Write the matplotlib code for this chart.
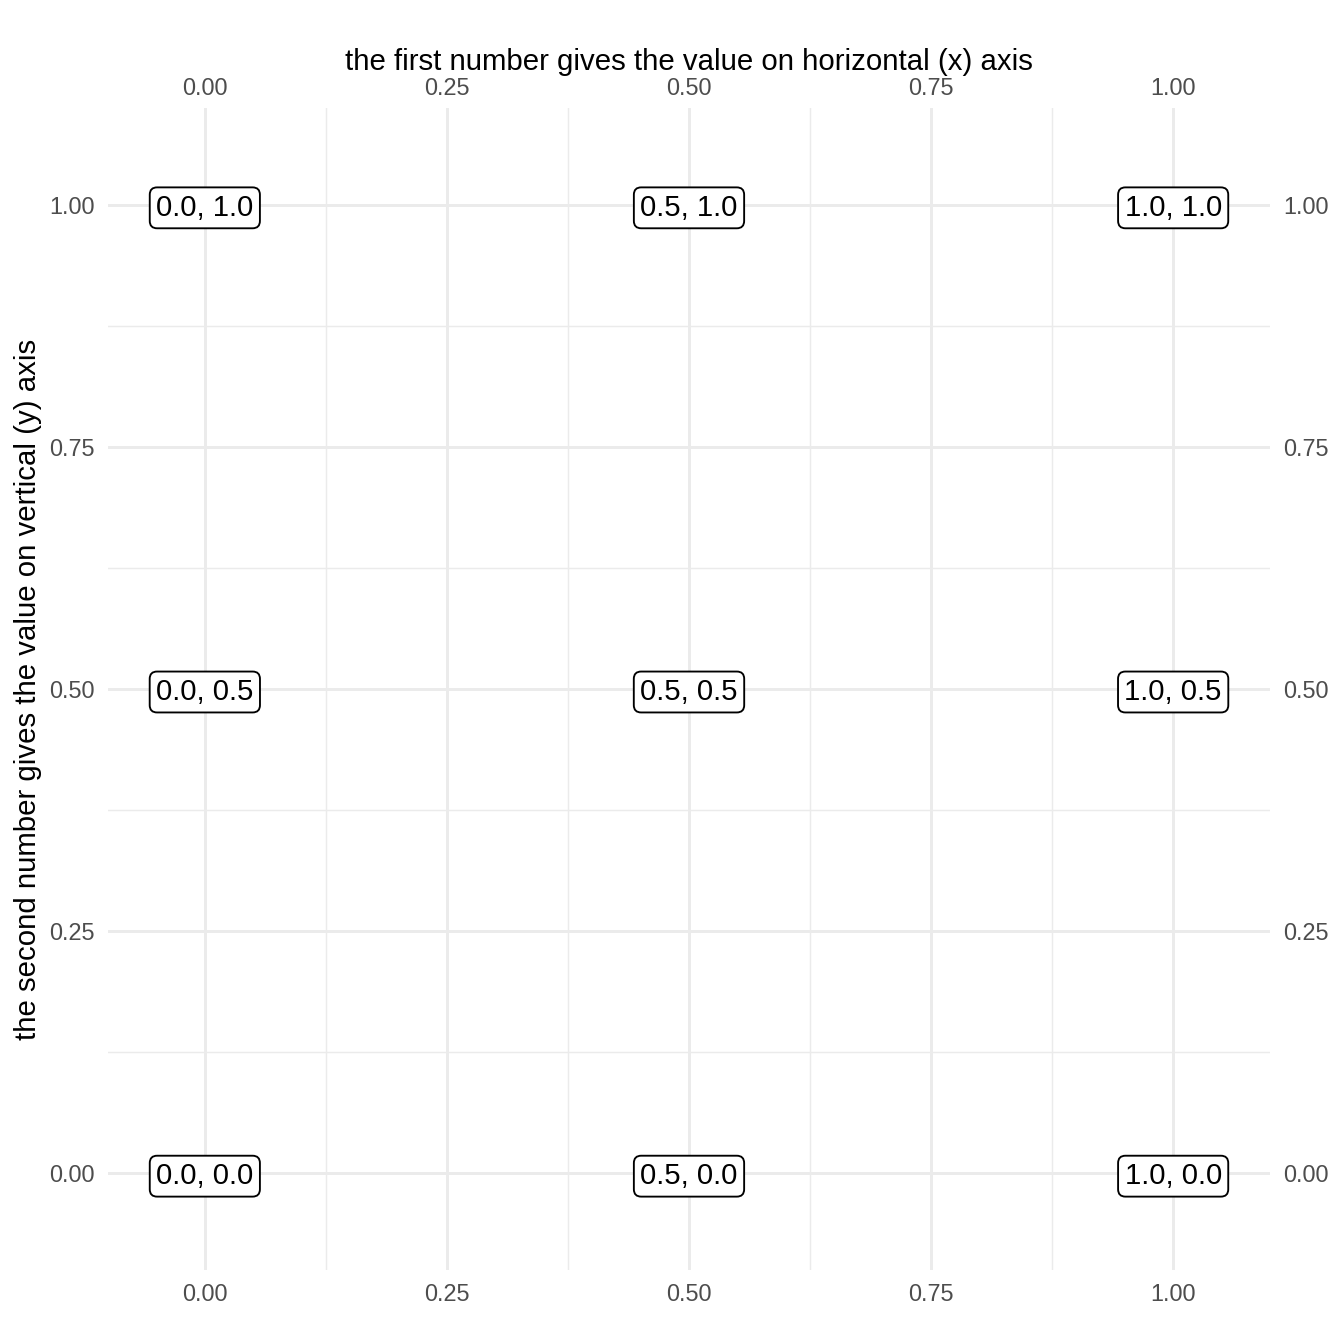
import matplotlib
matplotlib.use("Agg")
import matplotlib.pyplot as plt

xs = [0.0, 0.5, 1.0, 0.0, 0.5, 1.0, 0.0, 0.5, 1.0]
ys = [1.0, 1.0, 1.0, 0.5, 0.5, 0.5, 0.0, 0.0, 0.0]
labels = ["0.0, 1.0", "0.5, 1.0", "1.0, 1.0",
          "0.0, 0.5", "0.5, 0.5", "1.0, 0.5",
          "0.0, 0.0", "0.5, 0.0", "1.0, 0.0"]
major_ticks = [0.0, 0.25, 0.5, 0.75, 1.0]
minor_ticks = [0.125, 0.375, 0.625, 0.875]
tick_labels = ["0.00", "0.25", "0.50", "0.75", "1.00"]

plt.rcParams['font.family'] = ['Liberation Sans', 'DejaVu Sans']
fig = plt.figure(figsize=(7, 7), dpi=192)
ax = fig.add_axes([108/1344, 74/1344, 1162/1344, 1162/1344])
ax.set_xlim(-0.1, 1.1)
ax.set_ylim(-0.1, 1.1)
for s in ax.spines.values():
    s.set_visible(False)

grid_col = "#EBEBEB"
for v in major_ticks:
    ax.axvline(v, color=grid_col, lw=1.1, zorder=0)
    ax.axhline(v, color=grid_col, lw=1.1, zorder=0)
for v in minor_ticks:
    ax.axvline(v, color=grid_col, lw=0.55, zorder=0)
    ax.axhline(v, color=grid_col, lw=0.55, zorder=0)

for x, y, t in zip(xs, ys, labels):
    ax.text(x, y, t, ha="center", va="center_baseline", fontsize=11, color="black",
            bbox=dict(boxstyle="round,pad=0.22,rounding_size=0.25",
                      fc="white", ec="black", lw=0.7), zorder=3)

tick_kw = dict(labelsize=8.8, labelcolor="#4D4D4D", length=0, pad=5)
ax.set_xticks(major_ticks)
ax.set_xticklabels(tick_labels)
ax.set_yticks(major_ticks)
ax.set_yticklabels(tick_labels)
ax.tick_params(axis="both", **tick_kw)
ax.set_ylabel("the second number gives the value on vertical (y) axis",
              fontsize=11, labelpad=2.5)

secx = ax.secondary_xaxis("top")
secx.set_xticks(major_ticks)
secx.set_xticklabels(tick_labels)
secx.tick_params(labelsize=8.8, labelcolor="#4D4D4D", length=0, pad=3)
secx.set_xlabel("the first number gives the value on horizontal (x) axis",
                fontsize=11, labelpad=2.5)
for s in secx.spines.values():
    s.set_visible(False)

secy = ax.secondary_yaxis("right")
secy.set_yticks(major_ticks)
secy.set_yticklabels(tick_labels)
secy.tick_params(**tick_kw)
for s in secy.spines.values():
    s.set_visible(False)

fig.savefig("out.png", dpi=192, facecolor="white")
